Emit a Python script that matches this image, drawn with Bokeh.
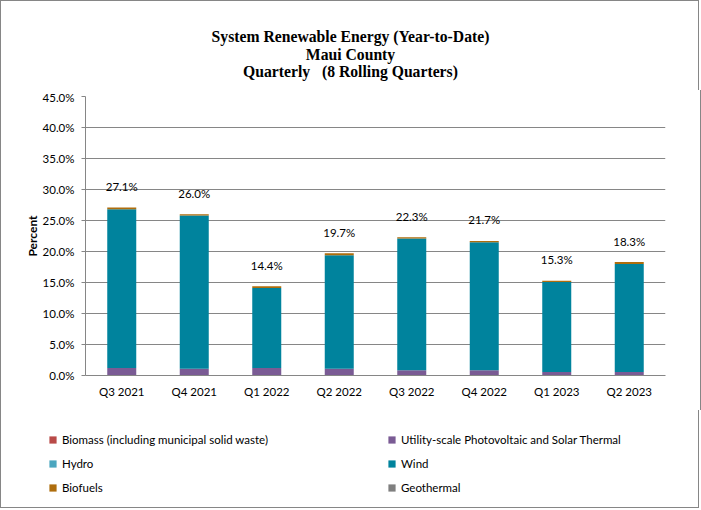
from bokeh.plotting import figure
from bokeh.models import (ColumnDataSource, NumeralTickFormatter, Legend, LegendItem,
                          FixedTicker, Range1d)
from bokeh.core.properties import value
from bokeh.embed import file_html
from bokeh.resources import INLINE

title_lines = ["System Renewable Energy (Year-to-Date)", "Maui County",
               "Quarterly\u00a0\u00a0 (8 Rolling Quarters)"]
quarters = ["Q3 2021", "Q4 2021", "Q1 2022", "Q2 2022", "Q3 2022", "Q4 2022", "Q1 2023", "Q2 2023"]
totals = [27.1, 26.0, 14.4, 19.7, 22.3, 21.7, 15.3, 18.3]
biomass = [0.0, 0.0, 0.0, 0.0, 0.0, 0.0, 0.0, 0.0]
solar = [1.2, 1.1, 1.2, 1.1, 0.85, 0.85, 0.55, 0.55]
hydro = [0.0, 0.0, 0.0, 0.0, 0.0, 0.0, 0.0, 0.0]
biofuels = [0.3, 0.2, 0.3, 0.3, 0.2, 0.2, 0.2, 0.3]
geothermal = [0.0, 0.0, 0.0, 0.0, 0.0, 0.0, 0.0, 0.0]
wind = [round(t - s - b, 2) for t, s, b in zip(totals, solar, biofuels)]
y_ticks = [0, 5, 10, 15, 20, 25, 30, 35, 40, 45]

series = ["biomass", "solar", "hydro", "wind", "biofuels", "geothermal"]
names = ["Biomass (including municipal solid waste)", "Utility-scale Photovoltaic and Solar Thermal",
         "Hydro", "Wind", "Biofuels", "Geothermal"]
colors = ["#B94A48", "#7A5B94", "#4BA6BF", "#00839D", "#AE6D0D", "#7F7F7F"]

data = dict(q=quarters,
            biomass=[v / 100 for v in biomass], solar=[v / 100 for v in solar],
            hydro=[v / 100 for v in hydro], wind=[v / 100 for v in wind],
            biofuels=[v / 100 for v in biofuels], geothermal=[v / 100 for v in geothermal],
            total=[v / 100 for v in totals],
            lbl=["%.1f%%" % v for v in totals])
src = ColumnDataSource(data)

FONT = "Lato"
W = 699
EDGE = "1px solid #868686"


def blank(height, yr, styles):
    f = figure(width=W, height=height, x_range=Range1d(0, W), y_range=yr,
               output_backend="svg", toolbar_location=None,
               x_axis_location=None, y_axis_location=None,
               min_border=0, min_border_left=0, min_border_right=0,
               min_border_top=0, min_border_bottom=0, styles=styles)
    f.grid.grid_line_color = None
    f.outline_line_color = None
    return f


# ---- title strip ----
t = blank(90, Range1d(90, 0), {"border-left": EDGE, "border-right": EDGE, "border-top": EDGE})
tsrc = ColumnDataSource(dict(x=[349, 349, 349], y=[35, 52.5, 69.5], txt=title_lines))
t.text(x="x", y="y", text="txt", source=tsrc, text_align="center", text_baseline="alphabetic",
       text_font=value("Liberation Serif"), text_font_style="bold", text_font_size="15.7px",
       text_color="#000000")

# ---- main chart ----
p = figure(x_range=quarters, y_range=(0, 0.45), width=W, height=320,
           output_backend="svg", toolbar_location=None,
           min_border_left=84, min_border_right=35, min_border_top=6, min_border_bottom=35,
           styles={"border-left": EDGE, "border-right": EDGE})
p.frame_width = 580
p.frame_height = 279

p.vbar_stack(series, x="q", width=0.4, source=src, color=colors, line_color=None)

p.text(x="q", y="total", text="lbl", source=src, text_align="center", text_baseline="middle",
       y_offset=-21, text_font=value(FONT), text_font_size="11.5px", text_color="#000000")

p.yaxis.ticker = FixedTicker(ticks=[v / 100 for v in y_ticks])
p.yaxis.formatter = NumeralTickFormatter(format="0.0%")
p.yaxis.axis_label = "Percent"
p.yaxis.axis_label_text_font = FONT
p.yaxis.axis_label_text_font_style = "bold"
p.yaxis.axis_label_text_font_size = "12px"
p.yaxis.axis_label_text_color = "#000000"
p.yaxis.axis_label_standoff = 0
p.yaxis.major_tick_out = 4
p.yaxis.major_tick_in = 0
p.yaxis.minor_tick_line_color = None
p.yaxis.major_label_standoff = 7
p.yaxis.major_tick_line_color = "#868686"
p.xaxis.major_tick_line_color = None
p.xaxis.minor_tick_line_color = None
p.xaxis.major_label_standoff = 3
for ax in (p.xaxis, p.yaxis):
    ax.axis_line_color = "#868686"
    ax.major_label_text_font = FONT
    ax.major_label_text_font_size = "11.5px"
    ax.major_label_text_color = "#000000"

p.xgrid.grid_line_color = None
p.ygrid.grid_line_color = "#868686"
p.outline_line_color = None

# ---- legend strip (same series, drawn outside its visible range; only the key shows) ----
lg = blank(98, Range1d(10, 11), {"border-left": EDGE, "border-right": EDGE, "border-bottom": EDGE})
lsrc = ColumnDataSource(dict(x=[-100] * len(quarters), **{s: data[s] for s in series}))
lrs = lg.vbar_stack(series, x="x", width=1, source=lsrc, color=colors, line_color=None)
items = [LegendItem(label=n, renderers=[r]) for n, r in zip(names, lrs)]
legend = Legend(items=items, location=(47, 11), orientation="horizontal", ncols=2,
                glyph_width=9, glyph_height=9, label_standoff=5, label_width=321,
                label_height=20, spacing=4, padding=0, margin=0,
                border_line_color=None, background_fill_alpha=0,
                label_text_font=FONT, label_text_font_size="11.5px", label_text_color="#000000")
lg.add_layout(legend, "center")

open("out.html", "w").write(file_html([t, p, lg], INLINE))
